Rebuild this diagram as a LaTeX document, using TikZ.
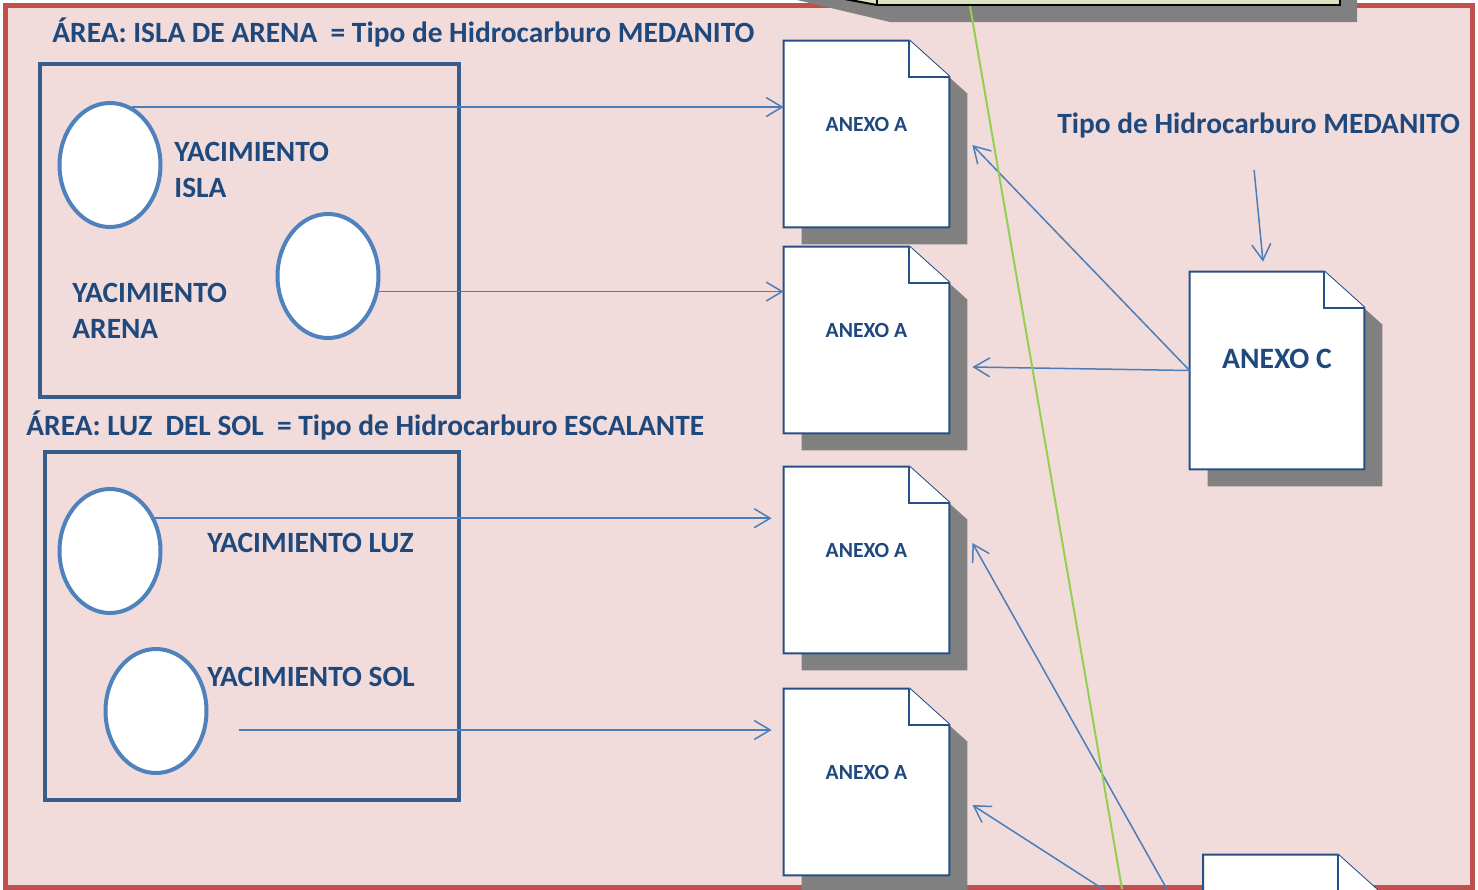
\documentclass[tikz,border=0pt]{standalone}
\usepackage{fontspec}
\setmainfont{Carlito}
\usetikzlibrary{shapes.geometric,arrows.meta,positioning}

\definecolor{bgpink}{HTML}{F2DCDB}
\definecolor{bgred}{HTML}{C0504D}
\definecolor{txtblue}{HTML}{1F497D}
\definecolor{boxblue}{HTML}{385D8A}
\definecolor{ovalblue}{HTML}{4F81BD}
\definecolor{linkblue}{HTML}{4A7EBB}
\definecolor{docline}{HTML}{254F85}
\definecolor{gboxfill}{HTML}{D7E4BD}
\definecolor{gline}{HTML}{92D050}

\pgfdeclarelayer{back}
\pgfsetlayers{back,main}

% sheet with folded corner and shadow, behind node #1
\newcommand{\docsheet}[1]{%
  \begin{pgfonlayer}{back}
    \fill[docshadow] ([shift={(18,17)}]#1.north west) -- ([shift={(-22,17)}]#1.north east)
        -- ([shift={(18,53)}]#1.north east) -- ([shift={(18,17)}]#1.south east)
        -- ([shift={(18,17)}]#1.south west) -- cycle;
    \filldraw[docedge] (#1.north west) -- ([shift={(-40,0)}]#1.north east)
        -- ([shift={(0,36)}]#1.north east) -- (#1.south east) -- (#1.south west) -- cycle;
    \draw[docedge] ([shift={(-40,0)}]#1.north east) |- ([shift={(0,36)}]#1.north east);
  \end{pgfonlayer}}

\begin{document}
\begin{tikzpicture}[
    x=0.5pt, y=-0.5pt,
    lbl/.style={font=\bfseries\fontsize{14.7pt}{18pt}\selectfont, text=txtblue,
        inner sep=0pt, anchor=base west},
    oval/.style={ellipse, draw=ovalblue, fill=white, line width=2pt,
        minimum width=50.5pt, minimum height=62pt, inner sep=0pt},
    areabox/.style={draw=boxblue, line width=2pt, inner sep=0pt},
    doc/.style={rectangle, inner sep=0pt, minimum width=82.5pt, minimum height=93pt,
        text=txtblue, font=\bfseries\fontsize{10.8pt}{12pt}\selectfont,
        text height=7pt, text depth=9.8pt},
    bigdoc/.style={doc, minimum width=87pt, minimum height=98.5pt,
        font=\bfseries\fontsize{14.8pt}{16pt}\selectfont,
        text height=9pt, text depth=11pt},
    docedge/.style={draw=docline, fill=white, line width=1pt, line join=miter},
    docshadow/.style={fill=black!50},
    link/.style={draw=linkblue, line width=0.75pt, -{Straight Barb[length=8pt,width=9.5pt]}}
]
\useasboundingbox (0,0) rectangle (1478,889);

% ---------------- Background ----------------
\begin{pgfonlayer}{back}
  \filldraw[fill=bgpink, draw=bgred, line width=2.5pt] (5.5,5) rectangle (1472,887);
\end{pgfonlayer}

% green box above (cut off)
\fill[docshadow] (797,0) -- (1357,0) -- (1357,22) -- (890,22) -- cycle;
\filldraw[fill=gboxfill, draw=black, line width=1pt] (877,5) -- (823,-5) -- (877,-30);
\node[draw=black, fill=gboxfill, line width=1pt, inner sep=0pt,
      minimum width=231.5pt, minimum height=22.5pt] (gbox) at (1108.5,-17.5) {};
\coordinate (gend) at (1122,889);

% ---------------- Areas ----------------
\node[areabox, minimum width=209.5pt, minimum height=166.5pt] (isla) at (249.5,230.5) {};
\node[areabox, minimum width=207pt, minimum height=174pt] (luz) at (252,626) {};

\node[lbl] (t1) at (52,42) {ÁREA: ISLA DE ARENA\ \ = Tipo de Hidrocarburo MEDANITO};
\node[lbl] (t2) at (26,435.5) {ÁREA: LUZ\ \ DEL SOL\ \ = Tipo de Hidrocarburo ESCALANTE};

% ---------------- Yacimientos ----------------
\node[oval] (e1) at (110,165) {};
\node[oval] (e2) at (328,276) {};
\node[oval] (e3) at (110,551) {};
\node[oval] (e4) at (156,711) {};

\node[lbl, align=left] (y1) at (174,197.5) {YACIMIENTO\\ISLA};
\node[lbl, align=left] (y2) at (72,338.5) {YACIMIENTO\\ARENA};
\node[lbl] (y3) at (207,552) {YACIMIENTO LUZ};
\node[lbl] (y4) at (207,686) {YACIMIENTO SOL};

% ---------------- Anexos ----------------
\node[doc] (d1) at (866.5,134) {ANEXO A};
\node[doc] (d2) at (866.5,340) {ANEXO A};
\node[doc] (d3) at (866.5,560) {ANEXO A};
\node[doc] (d4) at (866.5,782) {ANEXO A};
\node[bigdoc] (cdoc) at (1277,370.5) {ANEXO C};
\node[bigdoc] (bd) at (1290.5,953.5) {};
\docsheet{d1}
\docsheet{d2}
\docsheet{d3}
\docsheet{d4}
\docsheet{cdoc}
\docsheet{bd}

\node[lbl] (tipo) at (1057,133) {Tipo de Hidrocarburo MEDANITO};

% ---------------- Links ----------------
\coordinate (s3) at (e3.36);
\coordinate (s4) at ([shift={(30,19)}]e4.east);
\draw[link] (e1.69) -- (e1.69 -| d1.west);
\draw[link] (e2.-17) -- (e2.-17 -| d2.west);
\draw[link, shorten >=6pt] (s3) -- (s3 -| d3.west);
\draw[link, shorten >=6pt] (s4) -- (s4 -| d4.west);

% Anexo C
\draw[link] (cdoc.west) -- ([shift={(23,27)}]d2.east);
\draw[link] (cdoc.west) -- ([shift={(23,11)}]d1.east);
\draw[link] ([shift={(-4.5,32)}]tipo.south) -- ([shift={(-14,-10)}]cdoc.north);

% bottom sheet
\draw[link] (bd.west) -- ([shift={(23,-17)}]d3.east);
\draw[link] (bd.west) -- ([shift={(23,23)}]d4.east);

% green line
\draw[gline, line width=1pt] ([shift={(-138.5,0)}]gbox.south) -- (gend);

\end{tikzpicture}
\end{document}
